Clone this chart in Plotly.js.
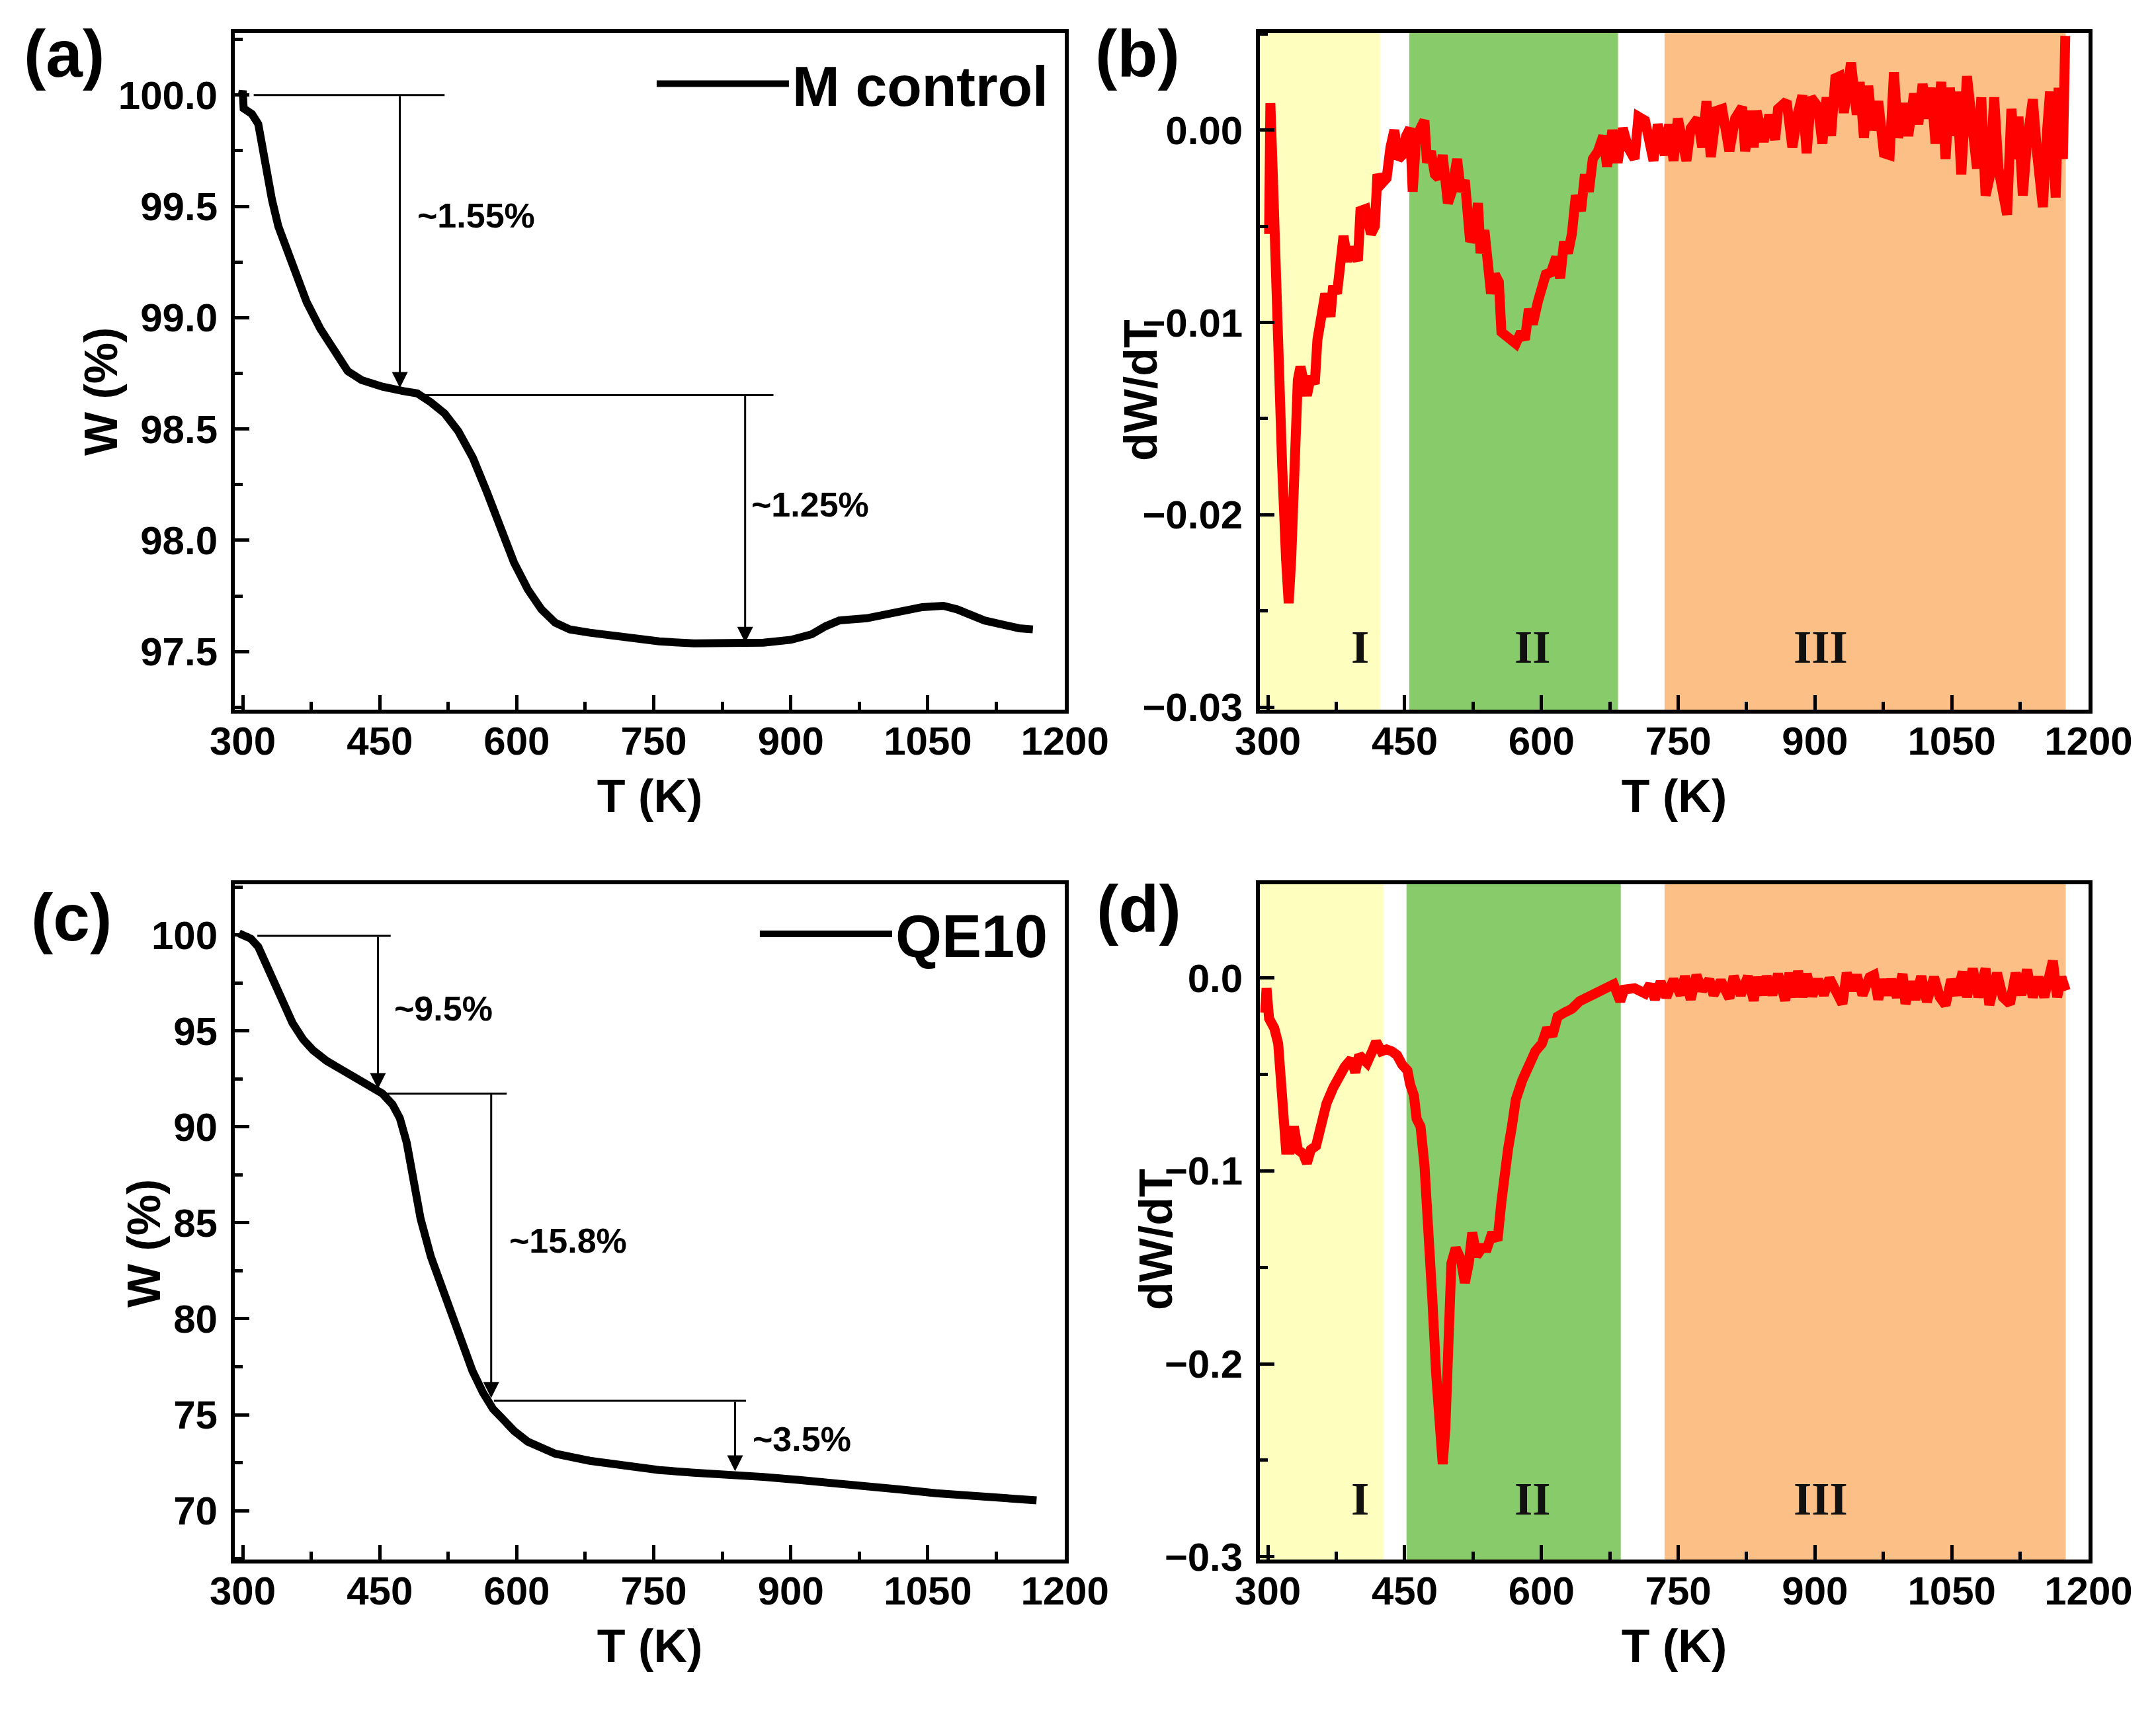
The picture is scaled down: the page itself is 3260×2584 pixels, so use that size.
<!DOCTYPE html>
<html>
<head>
<meta charset="utf-8">
<script src="https://cdn.plot.ly/plotly-3.0.1.min.js"></script>
<style>html,body{margin:0;padding:0;background:#fff}</style>
</head>
<body>
<div id="chart" style="width:3260px;height:2584px"></div>
<script>
// (a) TGA of M control
const tempA = [299, 300, 301, 305, 310, 317, 324, 332, 339, 355,
  370, 385, 400, 415, 430, 453, 476, 491, 506, 521,
  536, 552, 567, 582, 597, 612, 627, 642, 658, 680,
  718, 756, 794, 832, 870, 900, 923, 938, 953, 983,
  1014, 1044, 1067, 1082, 1112, 1135, 1150, 1165];
const weightA = [100.0, 100.02, 99.94, 99.93, 99.915, 99.87, 99.70, 99.53, 99.41, 99.24,
  99.07, 98.95, 98.85, 98.76, 98.72, 98.69, 98.67, 98.66, 98.62, 98.57,
  98.49, 98.37, 98.22, 98.05, 97.90, 97.78, 97.69, 97.63, 97.60, 97.585,
  97.565, 97.546, 97.537, 97.535, 97.54, 97.553, 97.578, 97.614, 97.64, 97.65,
  97.68, 97.70, 97.706, 97.69, 97.64, 97.614, 97.605, 97.60];

// (b) dW/dT of M control
const tempB = [301.3, 302.7, 305.6, 309.9, 315.6, 319.9, 322.8, 325.6, 328.5, 332.8,
  335.7, 338.5, 342.8, 347.1, 351.4, 354.3, 358.6, 362.9, 368.6, 371.5,
  375.8, 380, 382.9, 387.2, 392.9, 398.7, 401.5, 407.2, 413, 417.3,
  420.1, 424.4, 430.2, 434.4, 438.7, 443, 447.3, 451.6, 455.9, 458.8,
  462.2, 467.4, 471.7, 474.5, 478.8, 483.1, 487.4, 491.7, 497.4, 501.7,
  507.5, 511.7, 516, 521.8, 526.1, 530.4, 533.2, 537.5, 540.4, 544.7,
  549, 553.3, 556.1, 560.4, 566.1, 571.9, 577.6, 581.9, 586.2, 590.5,
  596.2, 600.5, 604.8, 610.5, 616.2, 620.5, 624.8, 629.1, 633.4, 637.7,
  643.4, 647.7, 652, 656.3, 662, 667.8, 672, 677.8, 683.5, 689.2,
  695, 702.1, 706.4, 713.6, 719.3,
  722.9, 727.6, 735.4, 740.1, 744.9, 749.6, 759, 763.7, 771.5, 776.3,
  781, 785.7, 792, 798.2, 806.1, 812.4, 820.2, 823.4, 829.6, 832.8,
  835.9, 843.8, 850, 856.3, 859.5, 868.9, 875.2, 881.4, 886.2, 890.9,
  895.6, 903.4, 908.1, 912.8, 917.6, 922.3, 927, 931.7, 939.5, 945.8,
  949, 953.7, 958.4, 963.1, 969.4, 975.6, 981.9, 986.6, 991.3, 997.6,
  1002.3, 1008.6, 1013.3, 1018, 1022.7, 1027.5, 1032.2, 1038.4, 1043.2, 1047.9,
  1052.6, 1055.7, 1060.4, 1066.7, 1073, 1077.7, 1082.4, 1087.1, 1091.8, 1096.5,
  1101.2, 1106, 1110.7, 1115.4, 1120.1, 1123.2, 1127.9, 1132.6, 1138.9, 1143.6,
  1149.9, 1154.6, 1157.8, 1164, 1167.2, 1171.9, 1174.5];
const rateB = [-0.0054, 0.0014, -0.0026, -0.0105, -0.0174, -0.0223, -0.0246, -0.0223, -0.0164, -0.0130,
  -0.0123, -0.0128, -0.0138, -0.0128, -0.0132, -0.0109, -0.0093, -0.0085, -0.0097, -0.0081,
  -0.0085, -0.0062, -0.0055, -0.0068, -0.0061, -0.0068, -0.0042, -0.0041, -0.0054, -0.0050,
  -0.0023, -0.0028, -0.0025, -0.0009, 0.0000, -0.0015, -0.0013, -0.0003, 0.0001, -0.0032,
  -0.0007, 0.0001, 0.0005, -0.0017, -0.0011, -0.0023, -0.0025, -0.0013, -0.0038, -0.0032,
  -0.0015, -0.0032, -0.0026, -0.0058, -0.0054, -0.0038, -0.0064, -0.0052, -0.0070, -0.0085,
  -0.0075, -0.0079, -0.0105, -0.0107, -0.0109, -0.0111, -0.0105, -0.0109, -0.0093, -0.0101,
  -0.0089, -0.0083, -0.0075, -0.0074, -0.0066, -0.0077, -0.0058, -0.0064, -0.0054, -0.0034,
  -0.0042, -0.0023, -0.0032, -0.0015, -0.0011, -0.0003, -0.0019, 0.0000, -0.0017, 0.0001,
  -0.0009, -0.0015, 0.0007, 0.0005, -0.0007,
  -0.0016, 0.0003, -0.0013, 0.0003, -0.0016, 0.0006, -0.0016, 0.0001, 0.0006, -0.0009,
  0.0015, -0.0014, 0.0010, 0.0011, -0.0011, 0.0006, 0.0012, -0.0011, 0.0010, -0.0009,
  0.0010, -0.0006, 0.0008, -0.0005, 0.0011, 0.0015, -0.0009, 0.0009, 0.0018, -0.0012,
  0.0017, 0.0012, -0.0007, 0.0017, -0.0003, 0.0027, 0.0028, 0.0009, 0.0035, 0.0008,
  0.0025, -0.0004, 0.0023, 0.0000, 0.0015, -0.0012, -0.0013, 0.0030, -0.0004, 0.0014,
  -0.0003, 0.0019, 0.0003, 0.0024, 0.0006, 0.0022, -0.0007, 0.0025, -0.0015, 0.0022,
  -0.0003, 0.0020, -0.0023, 0.0028, -0.0004, -0.0020, 0.0017, -0.0034, -0.0024, 0.0017,
  -0.0020, -0.0031, -0.0044, 0.0011, -0.0015, 0.0007, -0.0034, -0.0006, 0.0016, -0.0012,
  -0.0040, 0.0000, 0.0020, -0.0035, 0.0022, -0.0015, 0.0049];

// (c) TGA of QE10
const tempC = [296, 301.5, 309, 317, 324, 332, 339, 347, 354.5, 366,
  377, 392, 407.5, 423, 438, 453, 464, 472, 479.5, 487,
  494.7, 506, 521, 536, 551.5, 563, 574, 585.6, 597, 612,
  627, 642, 680, 718, 756, 794, 832, 870, 907.6, 945,
  983, 1021, 1059, 1097, 1135, 1169];
const weightC = [100.08, 100.0, 99.8, 99.38, 98.67, 97.82, 96.97, 96.12, 95.41, 94.56,
  93.99, 93.43, 93.0, 92.58, 92.15, 91.73, 91.16, 90.45, 89.18, 87.2,
  85.21, 83.23, 81.25, 79.26, 77.28, 76.15, 75.3, 74.73, 74.16, 73.6,
  73.23, 72.97, 72.6, 72.32, 72.12, 71.98, 71.9, 71.76, 71.61, 71.47,
  71.33, 71.1, 70.91, 70.76, 70.62, 70.54];

// (d) dW/dT of QE10
const tempD = [297, 298.5, 301.3, 307, 311.3, 315.6, 319.9, 324.2, 328.5, 332.8,
  338.5, 342.8, 347.1, 352.8, 357.1, 364.3, 371.5, 377.2, 384.3, 391.5,
  395.8, 400.1, 408.7, 414.4, 418.7, 424.4, 430.2, 435.9, 441.6, 447.3,
  453.1, 455.9, 460.2, 463.1, 467.4, 471.7, 476, 480.3, 484.5, 488.8,
  491.7, 494.6, 497.4, 501.2, 506, 511.7, 516, 520.3, 524.1, 528.9,
  534.6, 540.4, 546.1, 551.8, 556.1, 559, 563.3, 567.6, 571.9, 579,
  584.8, 593.3, 600.5, 606.2, 612, 617.7, 624.8, 633.4, 642, 652,
  659.2, 670.6, 679.2, 686.4, 690.7, 702.1, 713.6, 719.3,
  724.4, 730.7, 737, 744.9, 752.7, 757.4, 763.7, 770, 776.3, 784.1,
  788.8, 796.7, 806.1, 810.8, 818.6, 826.5, 832.8, 837.5, 842.2, 846.9,
  853.2, 859.5, 867.3, 872, 878.3, 881.4, 886.2, 890.9, 897.1, 903.4,
  909.7, 916, 922.3, 930.1, 934.8, 941.1, 945.8, 952.1, 959.9, 964.7,
  969.4, 974.1, 978.8, 983.5, 989.8, 996.1, 999.2, 1005.5, 1010.2, 1016.5,
  1022.7, 1030.6, 1036.9, 1043.2, 1049.4, 1055.7, 1062, 1066.7, 1073, 1079.3,
  1087.1, 1091.2, 1099.7, 1106, 1113.8, 1120.1, 1126.4, 1132.6, 1138.9, 1145.2,
  1151.5, 1156.2, 1160.9, 1165.6, 1170.3, 1175];
const rateD = [-0.018, -0.0053, -0.021, -0.026, -0.034, -0.061, -0.089, -0.089, -0.077, -0.089,
  -0.091, -0.096, -0.089, -0.087, -0.077, -0.065, -0.057, -0.051, -0.046, -0.042,
  -0.049, -0.040, -0.044, -0.038, -0.033, -0.038, -0.037, -0.038, -0.040, -0.045,
  -0.048, -0.055, -0.061, -0.073, -0.077, -0.097, -0.126, -0.166, -0.205, -0.234,
  -0.252, -0.234, -0.185, -0.148, -0.140, -0.146, -0.158, -0.148, -0.132, -0.144,
  -0.140, -0.140, -0.132, -0.136, -0.116, -0.101, -0.089, -0.077, -0.063, -0.053,
  -0.046, -0.038, -0.034, -0.026, -0.030, -0.020, -0.018, -0.016, -0.012, -0.010,
  -0.008, -0.006, -0.0033, -0.012, -0.006, -0.0053, -0.008, -0.0033,
  -0.0111, -0.0019, -0.0099, -0.0008, -0.0088, 0.0009, -0.0111, 0.0015, -0.0065, -0.0008,
  -0.0088, -0.0014, -0.0105, 0.0009, -0.0088, 0.0009, -0.0117, 0.0004, -0.0088, 0.0009,
  -0.0088, 0.0021, -0.0117, 0.0026, -0.0099, 0.0037, -0.0099, 0.0021, -0.0094, -0.0008,
  -0.0088, -0.0002, -0.0076, -0.0134, 0.0026, -0.0065, 0.0015, -0.0088, 0.0004, 0.0015,
  -0.0111, -0.0008, -0.0088, -0.0008, -0.0099, 0.0021, -0.0134, -0.0019, -0.0111, 0.0009,
  -0.0123, 0.0004, -0.0099, -0.0140, -0.0008, -0.0088, 0.0032, -0.0099, 0.0049, -0.0099,
  0.0049, -0.0140, 0.0026, -0.0099, -0.0134, 0.0026, -0.0088, 0.0043, -0.0099, 0.0004,
  -0.0099, 0.0004, 0.0089, -0.0099, 0.0004, -0.0065];

// stage bands (K) and their labels
const bandsB = [[291.3, 423], [455, 684], [735, 1175]];
const bandsD = [[291.3, 427], [452, 687], [735, 1175]];
const bandColors = ['#fefebf', '#87cb6b', '#fcc087'];
const stageNames = ['I', 'II', 'III'];
const stageT = [401, 590, 906];

const sans = 'Liberation Sans, Arial, sans-serif';
const tickFont = {family: sans, size: 60, color: '#000', weight: 'bold'};
const titleFont = {family: sans, size: 70, color: '#000', weight: 'bold'};
const noteFont = {family: sans, size: 52, color: '#000', weight: 'bold'};

function xAxis(domain, anchor) {
    return {
        domain: domain, anchor: anchor,
        range: [291.3, 1200], tick0: 300, dtick: 150,
        ticks: 'inside', ticklen: 22, tickwidth: 5, tickcolor: '#000',
        minor: {tick0: 300, dtick: 75, ticks: 'inside', ticklen: 12, tickwidth: 5, tickcolor: '#000'},
        showline: true, linewidth: 6, linecolor: '#000', mirror: true,
        showgrid: false, zeroline: false,
        tickfont: tickFont, ticklabelstandoff: -10,
        title: {text: 'T (K)', font: titleFont, standoff: 28}
    };
}

function yAxis(domain, anchor, range, tick0, dtick, fmt) {
    return {
        domain: domain, anchor: anchor, range: range,
        tick0: tick0, dtick: dtick, tickformat: fmt,
        ticks: 'inside', ticklen: 22, tickwidth: 5, tickcolor: '#000',
        minor: {tick0: tick0, dtick: dtick / 2, ticks: 'inside', ticklen: 12, tickwidth: 5, tickcolor: '#000'},
        showline: true, linewidth: 6, linecolor: '#000', mirror: true,
        showgrid: false, zeroline: false,
        tickfont: tickFont, ticklabelstandoff: 8
    };
}

const colL = [0.1089, 0.4939];
const colR = [0.5844, 0.9687];
const rowT = [0.5847, 0.9807];
const rowB = [0.0875, 0.4826];

const data = [
    {x: tempA, y: weightA, xaxis: 'x', yaxis: 'y', type: 'scatter', mode: 'lines',
     name: 'M control', line: {color: '#000', width: 12}, legend: 'legend'},
    {x: tempB, y: rateB, xaxis: 'x2', yaxis: 'y2', type: 'scatter', mode: 'lines',
     showlegend: false, line: {color: '#ff0000', width: 15}},
    {x: tempC, y: weightC, xaxis: 'x3', yaxis: 'y3', type: 'scatter', mode: 'lines',
     name: 'QE10', line: {color: '#000', width: 12}, legend: 'legend2'},
    {x: tempD, y: rateD, xaxis: 'x4', yaxis: 'y4', type: 'scatter', mode: 'lines',
     showlegend: false, line: {color: '#ff0000', width: 15}}
];

const shapes = [];
bandsB.forEach((b, i) => shapes.push({type: 'rect', xref: 'x2', yref: 'y2 domain', x0: b[0], x1: b[1], y0: 0, y1: 1,
    fillcolor: bandColors[i], line: {width: 0}, layer: 'below'}));
bandsD.forEach((b, i) => shapes.push({type: 'rect', xref: 'x4', yref: 'y4 domain', x0: b[0], x1: b[1], y0: 0, y1: 1,
    fillcolor: bandColors[i], line: {width: 0}, layer: 'below'}));

// step marker lines
function hline(xr, yr, x0, x1, y) {
    return {type: 'line', xref: xr, yref: yr, x0: x0, x1: x1, y0: y, y1: y, line: {color: '#000', width: 3}};
}
shapes.push(hline('x', 'y', 312, 521, 100.0));
shapes.push(hline('x', 'y', 491, 881, 98.652));
shapes.push(hline('x3', 'y3', 316, 462, 99.95));
shapes.push(hline('x3', 'y3', 452, 589, 91.73));
shapes.push(hline('x3', 'y3', 575, 851, 75.73));

function arrow(xr, yr, x, yFrom, yTo) {
    return {xref: xr, yref: yr, axref: xr, ayref: yr, x: x, y: yTo, ax: x, ay: yFrom,
        text: '', showarrow: true, arrowhead: 2, arrowsize: 1.6, arrowwidth: 3, arrowcolor: '#000', standoff: 0};
}
function note(xr, yr, x, y, text) {
    return {xref: xr, yref: yr, x: x, y: y, text: text, showarrow: false,
        xanchor: 'left', yanchor: 'middle', font: noteFont};
}
function panel(x, y, text) {
    return {xref: 'paper', yref: 'paper', x: x, y: y, text: text, showarrow: false,
        xanchor: 'center', yanchor: 'middle', font: {family: sans, size: 100, color: '#000', weight: 'bold'}};
}
function yTitle(x, y, text) {
    return {xref: 'paper', yref: 'paper', x: x, y: y, text: text, showarrow: false, textangle: -90,
        xanchor: 'center', yanchor: 'middle', font: titleFont};
}

const annotations = [
    arrow('x', 'y', 472, 100.0, 98.685),
    arrow('x', 'y', 850, 98.652, 97.54),
    note('x', 'y', 490, 99.46, '~1.55%'),
    note('x', 'y', 855, 98.16, '~1.25%'),
    arrow('x3', 'y3', 448, 99.95, 91.97),
    arrow('x3', 'y3', 572, 91.73, 75.87),
    arrow('x3', 'y3', 839, 75.73, 72.06),
    note('x3', 'y3', 464, 96.17, '~9.5%'),
    note('x3', 'y3', 590, 84.07, '~15.8%'),
    note('x3', 'y3', 857, 73.74, '~3.5%'),
    panel(0.0298, 0.9685, '(a)'),
    panel(0.5276, 0.9685, '(b)'),
    panel(0.0331, 0.4634, '(c)'),
    panel(0.5282, 0.4683, '(d)'),
    // y-axis titles
    yTitle(153 / 3260, 1 - 592 / 2584, 'W (%)'),
    yTitle(1725 / 3260, 1 - 590 / 2584, 'dW/dT'),
    yTitle(218 / 3260, 1 - 1880 / 2584, 'W (%)'),
    yTitle(1748 / 3260, 1 - 1874 / 2584, 'dW/dT')
];
stageNames.forEach((s, i) => {
    annotations.push({xref: 'x2', yref: 'y2', x: stageT[i], y: -0.0269, text: s, showarrow: false,
        font: {family: 'Liberation Serif, Times New Roman, serif', size: 70, color: '#111', weight: 'bold'}});
    annotations.push({xref: 'x4', yref: 'y4', x: stageT[i], y: -0.270, text: s, showarrow: false,
        font: {family: 'Liberation Serif, Times New Roman, serif', size: 70, color: '#111', weight: 'bold'}});
});

const layout = {
    width: 3260, height: 2584,
    margin: {l: 0, r: 0, t: 0, b: 0},
    paper_bgcolor: '#fff', plot_bgcolor: 'rgba(0,0,0,0)',
    xaxis: xAxis(colL, 'y'),
    yaxis: yAxis(rowT, 'x', [97.239, 100.279], 97.5, 0.5, '.1f'),
    xaxis2: xAxis(colR, 'y2'),
    yaxis2: yAxis(rowT, 'x2', [-0.03014, 0.00505], 0, 0.01, '.2f'),
    xaxis3: xAxis(colL, 'y3'),
    yaxis3: yAxis(rowB, 'x3', [67.46, 102.64], 70, 5, 'd'),
    xaxis4: xAxis(colR, 'y4'),
    yaxis4: yAxis(rowB, 'x4', [-0.3014, 0.0486], 0, 0.1, '.1f'),
    legend: {x: 0.4877, xanchor: 'right', y: 0.951, yanchor: 'middle', bgcolor: 'rgba(0,0,0,0)',
             borderwidth: 0, font: {family: sans, size: 86, color: '#000', weight: 'bold'}, itemwidth: 200},
    legend2: {x: 0.4877, xanchor: 'right', y: 0.4536, yanchor: 'middle', bgcolor: 'rgba(0,0,0,0)',
              borderwidth: 0, font: {family: sans, size: 90, color: '#000', weight: 'bold'}, itemwidth: 200},
    shapes: shapes,
    annotations: annotations
};

Plotly.newPlot('chart', data, layout, {displayModeBar: false});
</script>
</body>
</html>
